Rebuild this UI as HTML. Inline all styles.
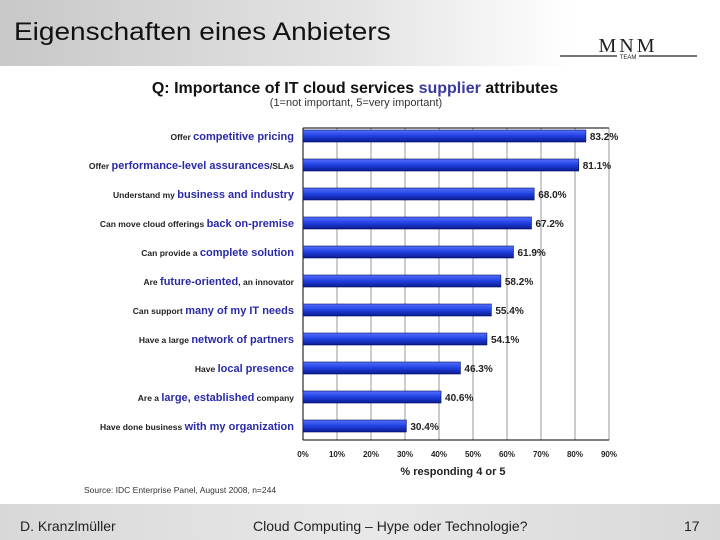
<!DOCTYPE html>
<html><head><meta charset="utf-8"><style>
body{margin:0;width:720px;height:540px;overflow:hidden;background:#fff;font-family:"Liberation Sans",sans-serif;position:relative}
#hdr{position:absolute;left:0;top:0;width:720px;height:66px;background:linear-gradient(90deg,#c8c8c8,#e4e4e4 50%,#fff 80%)}
#title{position:absolute;left:14px;top:18px;font-size:25px;color:#111;transform:scaleX(1.12);transform-origin:left}
#ftr{position:absolute;left:0;top:504px;width:720px;height:36px;background:linear-gradient(90deg,#d8d8d8,#e8e8e8 50%,#d8d8d8)}
.ft{position:absolute;top:518px;font-size:14px;color:#222}
</style></head><body>
<div id="hdr"></div>
<div id="title">Eigenschaften eines Anbieters</div>
<svg style="position:absolute;left:555px;top:28px" width="150" height="36">
<text x="73" y="24" font-family="Liberation Serif" font-size="20" text-anchor="middle" fill="#222" letter-spacing="3">MNM</text>
<line x1="5" y1="28" x2="62" y2="28" stroke="#222" stroke-width="1.2"/><line x1="84" y1="28" x2="142" y2="28" stroke="#222" stroke-width="1.2"/>
<text x="73" y="31" font-size="6" text-anchor="middle" fill="#222">TEAM</text></svg>
<div id="ftr"></div>
<div class="ft" style="left:20px">D. Kranzlmüller</div>
<div class="ft" style="left:253px">Cloud Computing – Hype oder Technologie?</div>
<div class="ft" style="left:684px">17</div>
<svg id="chart" style="position:absolute;left:0;top:0" width="720" height="540">
<defs><linearGradient id="bg" x1="0" y1="0" x2="0" y2="1"><stop offset="0" stop-color="#5570ff"/><stop offset="0.5" stop-color="#2040e0"/><stop offset="1" stop-color="#0a1a90"/></linearGradient></defs>
</svg>
<script>
const labelsPre=["Offer ","Offer ","Understand my ","Can move cloud offerings ","Can provide a ","Are ","Can support ","Have a large ","Have ","Are a ","Have done business "];
const labelsHi=["competitive pricing","performance-level assurances","business and industry","back on-premise","complete solution","future-oriented","many of my IT needs","network of partners","local presence","large, established","with my organization"];
const labelsPost=["","/SLAs","","","",", an innovator","","",""," company",""];
const values=[83.2,81.1,68.0,67.2,61.9,58.2,55.4,54.1,46.3,40.6,30.4];
const ticks=[0,10,20,30,40,50,60,70,80,90];
const svg=document.getElementById('chart');const NS='http://www.w3.org/2000/svg';
const X0=303,PX=3.4,Y0=122,STEP=29,TOP=128,BOT=440;
const x=v=>X0+v*PX, yc=i=>Y0+14+i*STEP;
function mk(t,a,txt){const e=document.createElementNS(NS,t);for(const k in a)e.setAttribute(k,a[k]);if(txt!=null)e.textContent=txt;svg.appendChild(e);return e;}
let t=mk('text',{x:355,y:93,'font-size':16,'font-weight':'bold','text-anchor':'middle',fill:'#111'});

t.innerHTML='Q: Importance of IT cloud services <tspan fill="#3a3aa0">supplier</tspan> attributes';
t=mk('text',{x:356,y:106,'font-size':11,'text-anchor':'middle',fill:'#333'},'(1=not important, 5=very important)');

ticks.forEach(v=>{const l=mk('line',{x1:x(v),x2:x(v),y1:TOP,y2:BOT,stroke:v==0?'#000':'#999','stroke-width':1});

const tl=mk('text',{x:x(v),y:457,'font-size':8,'font-weight':'bold','text-anchor':'middle',fill:'#222'},v+'%');
});
let a=mk('line',{x1:X0,x2:x(90),y1:BOT,y2:BOT,stroke:'#000'});
a=mk('line',{x1:X0,x2:x(90),y1:TOP,y2:TOP,stroke:'#000'});
values.forEach((v,i)=>{const r=mk('rect',{x:X0,y:yc(i)-6,width:x(v)-X0,height:12,fill:'url(#bg)',stroke:'#001060','stroke-width':0.6});

const vl=mk('text',{x:x(v)+4,y:yc(i)+4,'font-size':10,'font-weight':'bold',fill:'#222'},v.toFixed(1)+'%');

const lt=mk('text',{x:294,y:yc(i)+4,'text-anchor':'end','font-size':8.5,'font-weight':'bold',fill:'#222'});

lt.innerHTML=labelsPre[i]+'<tspan fill="#2a2aa8" font-size="11">'+labelsHi[i]+'</tspan>'+labelsPost[i];});
t=mk('text',{x:453,y:475,'font-size':11,'font-weight':'bold','text-anchor':'middle',fill:'#222'},'% responding 4 or 5');

t=mk('text',{x:84,y:493,'font-size':8.5,fill:'#333'},'Source: IDC Enterprise Panel, August 2008, n=244');

</script>
</body></html>
